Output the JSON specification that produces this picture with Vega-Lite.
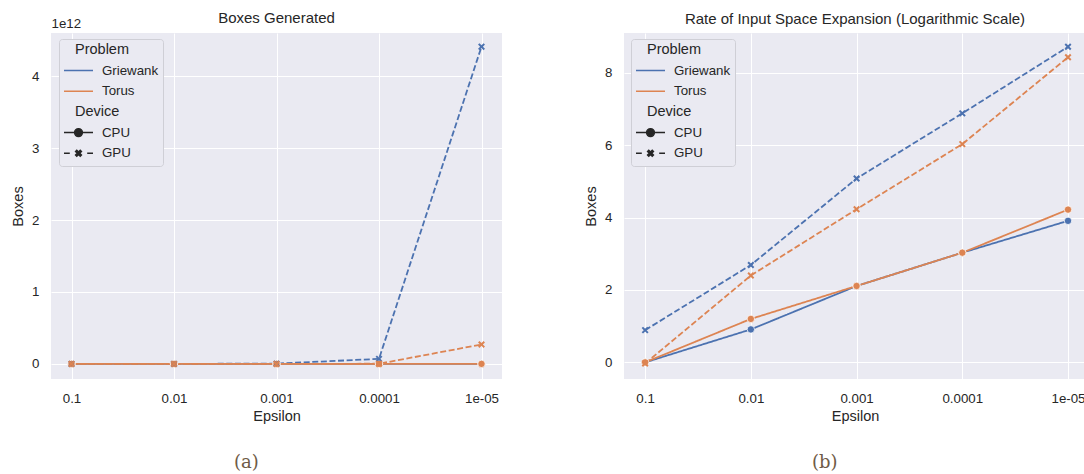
{
  "$schema": "https://vega.github.io/schema/vega-lite/v6.json",
  "padding": {"left": 10, "top": 11, "right": 0, "bottom": 0},
  "background": "white",
  "datasets": {
    "a": [
      {"Epsilon": "0.1", "Problem": "Griewank", "Device": "CPU", "Boxes": 0},
      {"Epsilon": "0.01", "Problem": "Griewank", "Device": "CPU", "Boxes": 0},
      {"Epsilon": "0.001", "Problem": "Griewank", "Device": "CPU", "Boxes": 0},
      {"Epsilon": "0.0001", "Problem": "Griewank", "Device": "CPU", "Boxes": 0},
      {"Epsilon": "1e-05", "Problem": "Griewank", "Device": "CPU", "Boxes": 0},
      {"Epsilon": "0.1", "Problem": "Griewank", "Device": "GPU", "Boxes": 0},
      {"Epsilon": "0.01", "Problem": "Griewank", "Device": "GPU", "Boxes": 0},
      {"Epsilon": "0.001", "Problem": "Griewank", "Device": "GPU", "Boxes": 4000000000},
      {"Epsilon": "0.0001", "Problem": "Griewank", "Device": "GPU", "Boxes": 70000000000},
      {"Epsilon": "1e-05", "Problem": "Griewank", "Device": "GPU", "Boxes": 4410000000000},
      {"Epsilon": "0.1", "Problem": "Torus", "Device": "CPU", "Boxes": 0},
      {"Epsilon": "0.01", "Problem": "Torus", "Device": "CPU", "Boxes": 0},
      {"Epsilon": "0.001", "Problem": "Torus", "Device": "CPU", "Boxes": 0},
      {"Epsilon": "0.0001", "Problem": "Torus", "Device": "CPU", "Boxes": 0},
      {"Epsilon": "1e-05", "Problem": "Torus", "Device": "CPU", "Boxes": 0},
      {"Epsilon": "0.1", "Problem": "Torus", "Device": "GPU", "Boxes": 0},
      {"Epsilon": "0.01", "Problem": "Torus", "Device": "GPU", "Boxes": 0},
      {"Epsilon": "0.001", "Problem": "Torus", "Device": "GPU", "Boxes": 0},
      {"Epsilon": "0.0001", "Problem": "Torus", "Device": "GPU", "Boxes": 2000000000},
      {"Epsilon": "1e-05", "Problem": "Torus", "Device": "GPU", "Boxes": 270000000000}
    ],
    "b": [
      {"Epsilon": "0.1", "Problem": "Griewank", "Device": "CPU", "Boxes": 0},
      {"Epsilon": "0.01", "Problem": "Griewank", "Device": "CPU", "Boxes": 0.91},
      {"Epsilon": "0.001", "Problem": "Griewank", "Device": "CPU", "Boxes": 2.11},
      {"Epsilon": "0.0001", "Problem": "Griewank", "Device": "CPU", "Boxes": 3.03},
      {"Epsilon": "1e-05", "Problem": "Griewank", "Device": "CPU", "Boxes": 3.91},
      {"Epsilon": "0.1", "Problem": "Griewank", "Device": "GPU", "Boxes": 0.89},
      {"Epsilon": "0.01", "Problem": "Griewank", "Device": "GPU", "Boxes": 2.69},
      {"Epsilon": "0.001", "Problem": "Griewank", "Device": "GPU", "Boxes": 5.08},
      {"Epsilon": "0.0001", "Problem": "Griewank", "Device": "GPU", "Boxes": 6.88},
      {"Epsilon": "1e-05", "Problem": "Griewank", "Device": "GPU", "Boxes": 8.72},
      {"Epsilon": "0.1", "Problem": "Torus", "Device": "CPU", "Boxes": 0},
      {"Epsilon": "0.01", "Problem": "Torus", "Device": "CPU", "Boxes": 1.2},
      {"Epsilon": "0.001", "Problem": "Torus", "Device": "CPU", "Boxes": 2.11},
      {"Epsilon": "0.0001", "Problem": "Torus", "Device": "CPU", "Boxes": 3.03},
      {"Epsilon": "1e-05", "Problem": "Torus", "Device": "CPU", "Boxes": 4.22},
      {"Epsilon": "0.1", "Problem": "Torus", "Device": "GPU", "Boxes": -0.03},
      {"Epsilon": "0.01", "Problem": "Torus", "Device": "GPU", "Boxes": 2.4},
      {"Epsilon": "0.001", "Problem": "Torus", "Device": "GPU", "Boxes": 4.23},
      {"Epsilon": "0.0001", "Problem": "Torus", "Device": "GPU", "Boxes": 6.03},
      {"Epsilon": "1e-05", "Problem": "Torus", "Device": "GPU", "Boxes": 8.43}
    ]
  },
  "config": {
    "font": "Liberation Sans",
    "view": {"fill": "#eaeaf2", "stroke": null},
    "axis": {
      "domain": false, "ticks": false, "grid": true, "gridColor": "#ffffff", "gridWidth": 1,
      "labelFont": "Liberation Sans", "labelFontSize": 13.3, "labelColor": "#262626",
      "titleFont": "Liberation Sans", "titleFontSize": 14.5, "titleFontWeight": "normal", "titleColor": "#262626"
    },
    "axisX": {"labelPadding": 12, "titlePadding": 5, "labelAngle": 0},
    "axisY": {"labelPadding": 12, "titlePadding": 6, "minExtent": 0},
    "title": {"font": "Liberation Sans", "fontSize": 15, "fontWeight": "normal", "color": "#262626"},
    "legend": {
      "orient": "none", "legendY": 6,
      "fillColor": "#eaeaf2", "strokeColor": "#cfcfd6", "cornerRadius": 3, "padding": 4,
      "clipHeight": 16, "rowPadding": 4.7, "titlePadding": 5, "labelOffset": 8,
      "symbolSize": 841, "symbolStrokeWidth": 1.5,
      "labelFont": "Liberation Sans", "labelFontSize": 13.3, "labelColor": "#262626",
      "titleFont": "Liberation Sans", "titleFontSize": 14.5, "titleFontWeight": "normal", "titleColor": "#262626"
    },
    "concat": {"spacing": 81}
  },
  "resolve": {
    "scale": {"color": "independent", "strokeDash": "independent", "x": "independent", "y": "independent"},
    "legend": {"color": "independent", "strokeDash": "independent"}
  },
  "hconcat": [
    {
      "title": {"text": "(a)", "orient": "bottom", "anchor": "middle", "font": "DejaVu Serif", "fontSize": 18, "fontWeight": "normal", "color": "#6f5b46", "offset": 31, "dx": -10},
      "resolve": {"scale": {"color": "independent", "strokeDash": "independent"}, "legend": {"color": "independent", "strokeDash": "independent"}},
      "vconcat": [
        {
          "title": {"text": "Boxes Generated", "offset": -10},
          "width": 451,
          "height": 346,
          "data": {"name": "a"},
          "encoding": {
            "x": {"field": "Epsilon", "type": "ordinal", "sort": ["0.1", "0.01", "0.001", "0.0001", "1e-05"], "scale": {"type": "point", "padding": 0.2}, "title": "Epsilon"},
            "color": {
              "field": "Problem", "type": "nominal",
              "scale": {"domain": ["Griewank", "Torus", "Device", "CPU", "GPU"], "range": ["#4c72b0", "#dd8452", "transparent", "#262626", "#262626"]},
              "legend": {
                "title": "Problem", "legendX": 8,
                "encode": {
                  "title": {"update": {"dx": {"value": 12}}},
                  "labels": {"update": {
                    "dx": {"signal": "datum.value === 'Device' ? -27 : 0"},
                    "fontSize": {"signal": "datum.value === 'Device' ? 14.5 : 13.3"}
                  }},
                  "symbols": {"update": {
                    "shape": {"signal": "datum.value === 'CPU' ? 'M-1,0H1M-0.27,0A0.27,0.27 0 1,1 0.27,0A0.27,0.27 0 1,1 -0.27,0Z' : datum.value === 'GPU' ? 'M-1,0H-0.6M0.6,0H1M-0.2,-0.12L-0.12,-0.2L0,-0.08L0.12,-0.2L0.2,-0.12L0.08,0L0.2,0.12L0.12,0.2L0,0.08L-0.12,0.2L-0.2,0.12L-0.08,0Z' : datum.value === 'Device' ? 'M0,0' : 'M-1,0H1'"},
                    "strokeDash": {"value": []},
                    "strokeWidth": {"value": 1.5},
                    "opacity": {"value": 1},
                    "size": {"value": 841}
                  }}
                }
              }
            }
          },
          "resolve": {"axis": {"y": "independent"}},
          "layer": [
            {
              "mark": {"type": "line", "strokeWidth": 1.8},
              "encoding": {
                "y": {"field": "Boxes", "type": "quantitative", "title": "Boxes",
                  "scale": {"domain": [-210000000000, 4600000000000], "nice": false, "zero": false},
                  "axis": {"values": [0, 1000000000000, 2000000000000, 3000000000000, 4000000000000], "labelExpr": "format(datum.value / 1e12, 'd')"}},
                "strokeDash": {"field": "Device", "type": "nominal", "scale": {"domain": ["CPU", "GPU"], "range": [[1, 0], [6, 2.6]]}, "legend": null}
              }
            },
            {
              "transform": [{"filter": "datum.Device === 'CPU'"}],
              "mark": {"type": "point", "shape": "circle", "filled": true, "size": 55, "opacity": 1, "stroke": "#ffffff", "strokeWidth": 0.75},
              "encoding": {
                "y": {"field": "Boxes", "type": "quantitative", "axis": null}
              }
            },
            {
              "transform": [{"filter": "datum.Device === 'GPU'"}],
              "mark": {"type": "point", "shape": "M-1,-0.6L-0.6,-1L0,-0.4L0.6,-1L1,-0.6L0.4,0L1,0.6L0.6,1L0,0.4L-0.6,1L-1,0.6L-0.4,0Z", "filled": true, "size": 48, "opacity": 1, "strokeWidth": 0},
              "encoding": {
                "y": {"field": "Boxes", "type": "quantitative",
                  "axis": {"orient": "left", "title": "1e12", "labels": false, "ticks": false, "domain": false, "grid": false,
                    "titleAngle": 0, "titleX": 0, "titleY": -6, "titleAlign": "left", "titleBaseline": "alphabetic", "titleFontSize": 13.3}}
              }
            }
          ]
        }
      ]
    },
    {
      "title": {"text": "(b)", "orient": "bottom", "anchor": "middle", "font": "DejaVu Serif", "fontSize": 18, "fontWeight": "normal", "color": "#6f5b46", "offset": 31, "dx": -10},
      "resolve": {"scale": {"color": "independent", "strokeDash": "independent"}, "legend": {"color": "independent", "strokeDash": "independent"}},
      "vconcat": [
        {
          "title": {"text": "Rate of Input Space Expansion (Logarithmic Scale)", "offset": 6},
          "width": 462,
          "height": 346,
          "data": {"name": "b"},
          "encoding": {
            "x": {"field": "Epsilon", "type": "ordinal", "sort": ["0.1", "0.01", "0.001", "0.0001", "1e-05"], "scale": {"type": "point", "padding": 0.185, "align": 0.54}, "title": "Epsilon"},
            "y": {"field": "Boxes", "type": "quantitative", "title": "Boxes",
              "scale": {"domain": [-0.46, 9.1], "nice": false, "zero": false},
              "axis": {"values": [0, 2, 4, 6, 8]}},
            "color": {
              "field": "Problem", "type": "nominal",
              "scale": {"domain": ["Griewank", "Torus", "Device", "CPU", "GPU"], "range": ["#4c72b0", "#dd8452", "transparent", "#262626", "#262626"]},
              "legend": {
                "title": "Problem", "legendX": 7,
                "encode": {
                  "title": {"update": {"dx": {"value": 12}}},
                  "labels": {"update": {
                    "dx": {"signal": "datum.value === 'Device' ? -27 : 0"},
                    "fontSize": {"signal": "datum.value === 'Device' ? 14.5 : 13.3"}
                  }},
                  "symbols": {"update": {
                    "shape": {"signal": "datum.value === 'CPU' ? 'M-1,0H1M-0.27,0A0.27,0.27 0 1,1 0.27,0A0.27,0.27 0 1,1 -0.27,0Z' : datum.value === 'GPU' ? 'M-1,0H-0.6M0.6,0H1M-0.2,-0.12L-0.12,-0.2L0,-0.08L0.12,-0.2L0.2,-0.12L0.08,0L0.2,0.12L0.12,0.2L0,0.08L-0.12,0.2L-0.2,0.12L-0.08,0Z' : datum.value === 'Device' ? 'M0,0' : 'M-1,0H1'"},
                    "strokeDash": {"value": []},
                    "strokeWidth": {"value": 1.5},
                    "opacity": {"value": 1},
                    "size": {"value": 841}
                  }}
                }
              }
            }
          },
          "layer": [
            {
              "mark": {"type": "line", "strokeWidth": 1.8},
              "encoding": {
                "strokeDash": {"field": "Device", "type": "nominal", "scale": {"domain": ["CPU", "GPU"], "range": [[1, 0], [6, 2.6]]}, "legend": null}
              }
            },
            {
              "transform": [{"filter": "datum.Device === 'CPU'"}],
              "mark": {"type": "point", "shape": "circle", "filled": true, "size": 55, "opacity": 1, "stroke": "#ffffff", "strokeWidth": 0.75},
              "encoding": {}
            },
            {
              "transform": [{"filter": "datum.Device === 'GPU'"}],
              "mark": {"type": "point", "shape": "M-1,-0.6L-0.6,-1L0,-0.4L0.6,-1L1,-0.6L0.4,0L1,0.6L0.6,1L0,0.4L-0.6,1L-1,0.6L-0.4,0Z", "filled": true, "size": 48, "opacity": 1, "strokeWidth": 0},
              "encoding": {}
            }
          ]
        }
      ]
    }
  ]
}
